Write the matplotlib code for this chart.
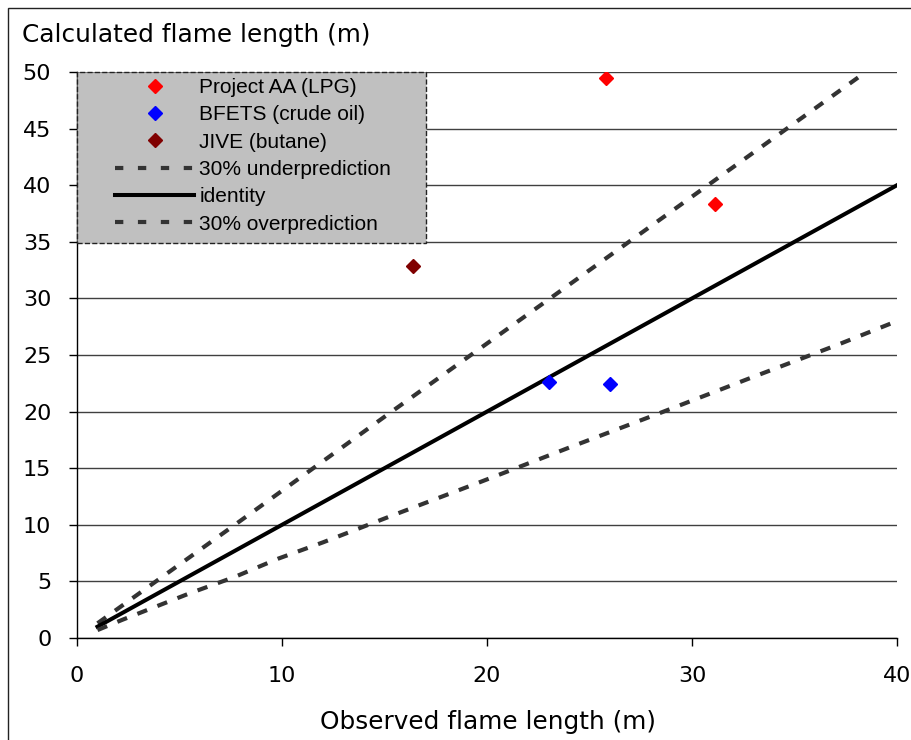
import matplotlib.pyplot as plt
from matplotlib.lines import Line2D
from matplotlib.patches import Rectangle

# Measured points: observed vs calculated flame length (m)
aa_obs = [25.8, 31.1]
aa_calc = [49.5, 38.3]
bfets_obs = [23.0, 26.0]
bfets_calc = [22.6, 22.4]
jive_obs = [16.4]
jive_calc = [32.9]

# Reference lines
under_x = [1.0, 7.7, 15.35, 23.0, 30.7, 38.4]
under_y = [1.3, 10.0, 20.0, 29.9, 39.9, 49.9]
ident_x = [1.0, 40.0]
ident_y = [1.0, 40.0]
over_x = [1.0, 2.2, 5.5, 7.7, 9.8, 12.0, 15.35, 19.7, 24.05, 28.4, 32.75, 37.1, 40.0]
over_y = [0.7, 1.6, 3.95, 5.4, 7.0, 8.45, 10.8, 13.8, 16.85, 19.85, 22.9, 25.9, 28.0]

x_ticks = [0, 10, 20, 30, 40]
y_ticks = [0, 5, 10, 15, 20, 25, 30, 35, 40, 45, 50]

plt.rcParams['font.family'] = ['DejaVu Sans']
plt.rcParams['lines.scale_dashes'] = False

W, H = 912, 740
fig = plt.figure(figsize=(W / 100, H / 100), dpi=100)
ax = fig.add_axes([77 / W, 102 / H, 820 / W, 566 / H])

dash_col = '#333333'
dash = (7.5, 8.0)
ax.plot(under_x, under_y, color=dash_col, lw=3.0, dashes=dash, zorder=4)
ax.plot(ident_x, ident_y, color='black', lw=2.9, zorder=4)
ax.plot(over_x, over_y, color=dash_col, lw=3.0, dashes=dash, zorder=4)

mk = dict(marker='D', ms=7.2, ls='none', zorder=5)
ax.plot(aa_obs, aa_calc, color='#ff0000', **mk)
ax.plot(bfets_obs, bfets_calc, color='#0000ff', **mk)
ax.plot(jive_obs, jive_calc, color='#800000', **mk)

ax.set_xlim(0, 40)
ax.set_ylim(0, 50)
ax.set_xticks(x_ticks)
ax.set_yticks(y_ticks)
ax.yaxis.grid(True, color='#404040', lw=1.0)
ax.set_axisbelow(True)
for s in ['top', 'right']:
    ax.spines[s].set_visible(False)
for s in ['left', 'bottom']:
    ax.spines[s].set_color('black')
    ax.spines[s].set_linewidth(1.0)
ax.tick_params(direction='out', length=6, width=1, labelsize=16, colors='black')
ax.tick_params(axis='y', pad=12.5)
ax.tick_params(axis='x', pad=14)

fig.text(22 / W, 1 - 42 / H, 'Calculated flame length (m)', fontsize=17.8,
         ha='left', va='baseline')
fig.text(488 / W, 1 - 722 / H, 'Observed flame length (m)', fontsize=17.8,
         ha='center', va='center')

# legend box with dashed outline
box_w = 349 / 820
box_y0 = (638 - 243) / 566
ax.add_patch(Rectangle((0, box_y0), box_w, 1 - box_y0, transform=ax.transAxes,
                       facecolor='#c0c0c0', edgecolor='#222222', ls='--', lw=1.0,
                       zorder=3, clip_on=False))

handles = [
    Line2D([], [], color='#ff0000', **mk),
    Line2D([], [], color='#0000ff', **mk),
    Line2D([], [], color='#800000', **mk),
    Line2D([], [], color=dash_col, lw=3.0, dashes=(6, 10.5)),
    Line2D([], [], color='black', lw=2.9),
    Line2D([], [], color=dash_col, lw=3.0, dashes=(6, 10.5)),
]
labels = ['Project AA (LPG)', 'BFETS (crude oil)', 'JIVE (butane)',
          '30% underprediction', 'identity', '30% overprediction']
leg = ax.legend(handles, labels, loc='upper left',
                bbox_to_anchor=(38 / 820, 1 - 6 / 566), frameon=False,
                borderpad=0, prop={'family': 'Liberation Sans', 'size': 15},
                handlelength=3.8, handletextpad=0.25, labelspacing=0.4,
                borderaxespad=0)
leg.set_zorder(6)

# outer chart border
fig.patches.append(Rectangle((8 / W, -0.1), 1.2, 1.1 - 8 / H, transform=fig.transFigure,
                             fill=False, edgecolor='#222222', lw=1.0))

fig.savefig('out.png', dpi=100)
